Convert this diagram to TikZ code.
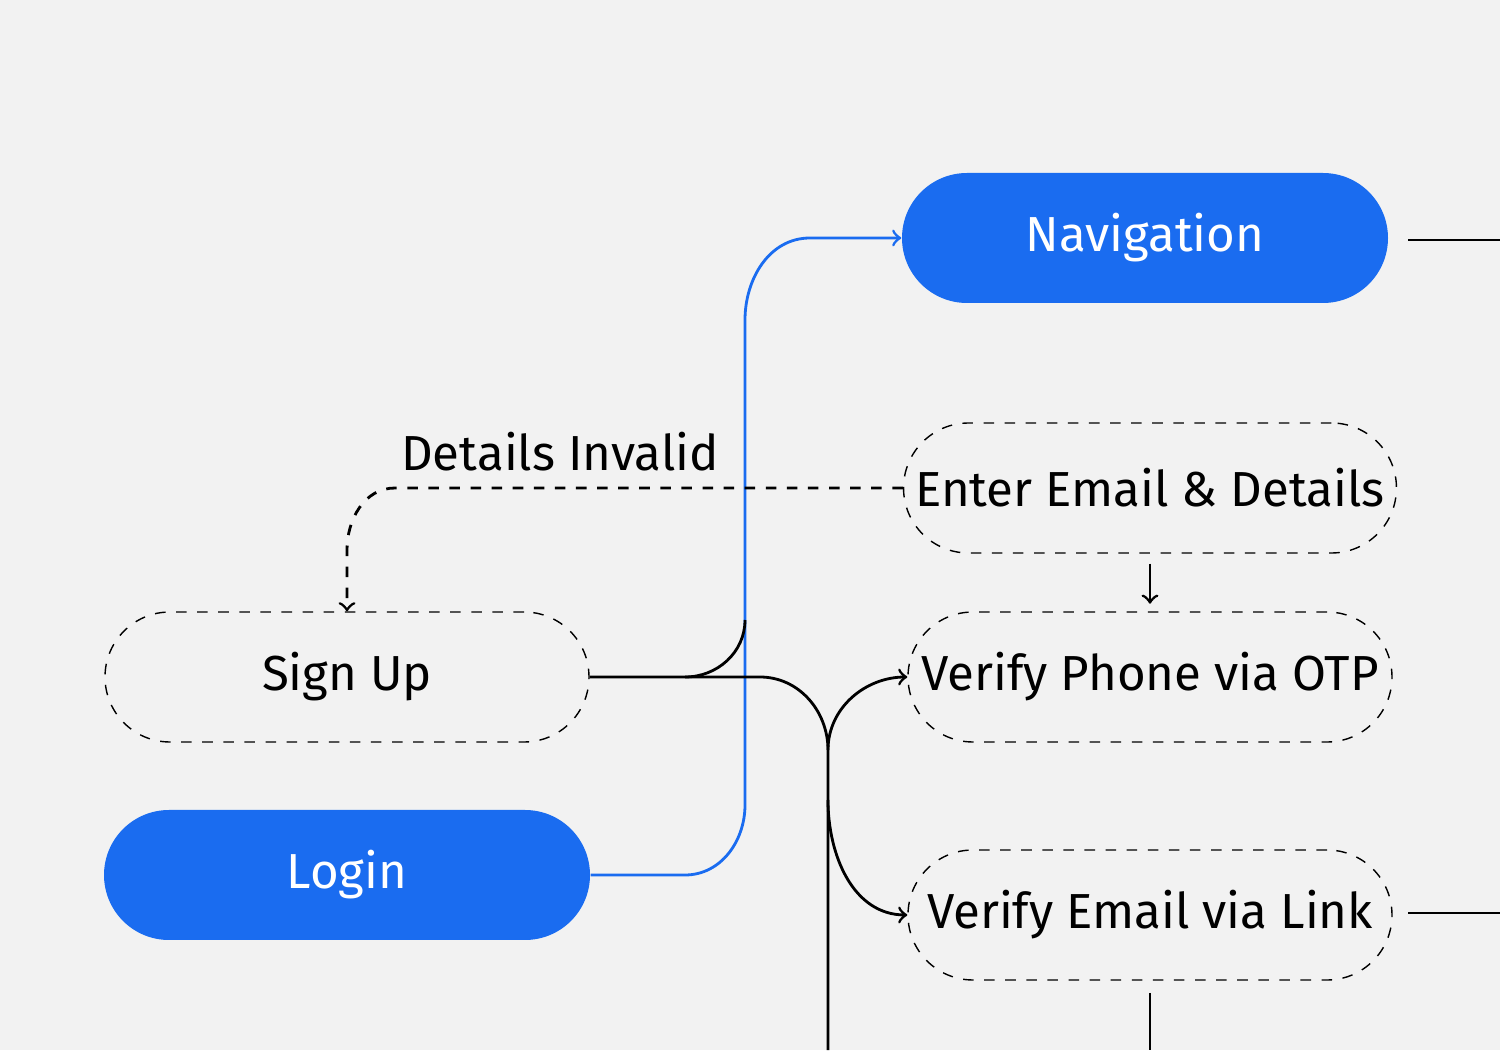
\documentclass[tikz,border=0pt]{standalone}
\usepackage{fontspec}
\setmainfont{Fira Sans}
\definecolor{bgc}{HTML}{F2F2F2}
\definecolor{flowblue}{HTML}{1A6CF0}
\tikzset{
  solidbox/.style={rounded corners=0.65cm, fill=flowblue, text=white, minimum width=4.86cm, minimum height=1.3cm, font=\fontsize{14}{16}\selectfont},
  dashbox/.style={rounded corners=0.65cm, draw, dashed, minimum width=4.84cm, minimum height=1.3cm, font=\fontsize{14}{16}\selectfont},
  link/.style={thick, line width=0.8pt},
}
\begin{document}
\begin{tikzpicture}
\fill[bgc] (0,0) rectangle (15,10.5); % background
\useasboundingbox (0,0) rectangle (15,10.5);

\node[solidbox] (nav) at (11.45,8.12) {Navigation}; % Navigation
\node[dashbox] (enter) at (11.5,5.62) {Enter Email \& Details}; % Enter Email
\node[dashbox] (phone) at (11.5,3.73) {Verify Phone via OTP}; % Verify Phone
\node[dashbox] (email) at (11.5,1.35) {Verify Email via Link}; % Verify Email
\node[dashbox] (signup) at (3.47,3.73) {Sign Up}; % Sign Up
\node[solidbox] (login) at (3.47,1.75) {Login}; % Login

\coordinate (navout) at (14.08,8.1); % nav right stub
\coordinate (navend) at (15,8.1);
\coordinate (mailout) at (14.08,1.37); % email right stub
\coordinate (mailend) at (15,1.37);
\coordinate (mailbot) at (11.5,0.57); % email bottom stub
\coordinate (bot) at (11.5,0);
\coordinate (trunk) at (8.28,0); % black trunk bottom

% blue: login to navigation
\draw[link, flowblue, ->] (login.east) -- (6.85,1.75) to[out=0,in=-90] (7.45,2.45) -- (7.45,7.3) to[out=90,in=180] (8.1,8.12) -- (nav.west);

% black: sign up branches
\draw[link] (signup.east) -- (6.85,3.73) to[out=0,in=-90] (7.45,4.3); % joins blue
\draw[link] (6.85,3.73) -- (7.6,3.73) to[out=0,in=90] (8.28,3.0) -- (trunk);
\draw[link, ->] (8.28,3.0) to[out=90,in=180] (phone.west); % to OTP
\draw[link, ->] (8.28,2.5) to[out=-90,in=180] (email.west); % to email link

% dashed: details invalid
\draw[link, dashed, ->] (enter.west) -- (3.95,5.62) to[out=180,in=90] (3.47,5.0) -- (signup.north);
\node[font=\fontsize{14}{16}\selectfont] (inv) at (5.6,5.98) {Details Invalid}; % label

\draw[link, ->] (enter.south) ++(0,-0.1) -- ++(0,-0.4); % enter to phone
\draw[link] (navout) -- (navend);
\draw[link] (mailout) -- (mailend);
\draw[link] (mailbot) -- (bot);
\end{tikzpicture}
\end{document}
